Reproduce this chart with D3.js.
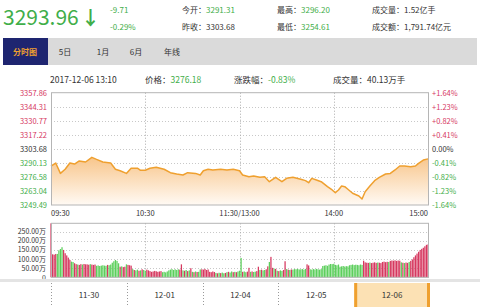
<!DOCTYPE html>
<html>
<head>
<meta charset="utf-8">
<script src="https://cdnjs.cloudflare.com/ajax/libs/d3/7.8.5/d3.min.js"></script>
<style>
body { margin: 0; background: #fff; }
svg text { font-family: "Noto Sans CJK SC", "Noto Sans", sans-serif; }
</style>
</head>
<body>
<script>
var W = 480, H = 307;

// quote header
var lastPrice = "3293.96",
    change = "-9.71",
    changePct = "-0.29%";
var quoteRows = [
  [{"k": "今开：", "v": "3291.31", "c": "g"}, {"k": "最高：", "v": "3296.20", "c": "g"}, {"k": "成交量：", "v": "1.52亿手", "c": "d"}],
  [{"k": "昨收：", "v": "3303.68", "c": "d"}, {"k": "最低：", "v": "3254.61", "c": "g"}, {"k": "成交额：", "v": "1,791.74亿元", "c": "d"}]
];
var tabs = ["分时图", "5日", "1月", "6月", "年线"];

// hover info line
var infoTime = "2017-12-06 13:10",
    infoPrice = "3276.18",
    infoPct = "-0.83%",
    infoVol = "40.13万手";

// price axis
var priceTicks = [3357.86, 3344.31, 3330.77, 3317.22, 3303.68, 3290.13, 3276.58, 3263.04, 3249.49];
var pctTicks = ["+1.64%", "+1.23%", "+0.82%", "+0.41%", "0.00%", "-0.41%", "-0.82%", "-1.23%", "-1.64%"];
var prevClose = 3303.68;
var timeTicks = ["09:30", "10:30", "11:30/13:00", "14:00", "15:00"];

// intraday price
var priceTimes = ["09:30","09:33","09:36","09:39","09:42","09:45","09:48","09:52","09:56","09:59",
  "10:03","10:08","10:11","10:14","10:18","10:21","10:25","10:27","10:30","10:33",
  "10:37","10:42","10:46","10:50","10:54","10:57","11:02","11:05","11:07","11:10",
  "11:13","11:18","11:22","11:26","11:30","13:02","13:06","13:09","13:13","13:16",
  "13:19","13:23","13:27","13:30","13:34","13:39","13:42","13:44","13:46","13:49",
  "13:52","13:56","13:59","14:01","14:03","14:05","14:07","14:09","14:12","14:16",
  "14:18","14:20","14:23","14:26","14:29","14:33","14:36","14:39","14:42","14:45",
  "14:49","14:52","14:54","14:57","15:00"];
var priceValues = [3287.1,3290.0,3280.0,3284.0,3290.0,3289.0,3292.0,3291.0,3295.5,3293.5,
  3291.0,3290.0,3284.0,3282.6,3280.0,3285.0,3285.0,3283.0,3283.0,3285.0,
  3286.0,3284.0,3280.7,3279.4,3278.4,3280.7,3280.0,3278.4,3282.6,3284.0,
  3283.3,3284.0,3283.3,3284.0,3282.6,3278.4,3276.8,3277.5,3276.2,3276.8,
  3272.0,3276.2,3272.0,3275.2,3276.2,3274.3,3273.0,3271.0,3275.2,3273.6,
  3272.0,3267.2,3264.0,3261.4,3264.0,3267.8,3267.2,3264.7,3260.8,3258.2,
  3255.3,3262.3,3267.8,3273.0,3276.2,3279.4,3280.0,3283.3,3287.1,3287.1,
  3286.5,3287.1,3289.7,3292.9,3294.0];

// per-minute volume in 万手, 09:30 .. 15:00
var volValues = [296,126,124,128,128,148,155,165,150,132,
  120,108,95,86,84,77,72,70,68,72,
  70,73,71,71,69,72,70,68,70,63,
  65,62,64,66,64,63,68,66,70,80,
  88,95,90,77,58,60,56,58,71,68,
  66,64,45,40,38,42,36,38,44,40,
  36,42,38,34,30,32,35,33,30,32,
  34,28,30,27,32,38,42,45,40,44,
  40,44,42,71,38,36,40,34,38,50,
  30,28,32,29,30,43,44,42,46,40,
  43,30,28,32,29,24,22,25,23,26,
  22,24,28,30,26,32,28,30,28,32,
  36,106,30,32,28,31,52,30,32,29,
  31,34,58,40,42,38,40,44,60,84,
  112,52,48,46,36,34,38,35,40,88,
  45,42,40,43,42,45,44,46,43,44,
  45,42,46,71,65,44,42,45,43,46,
  44,42,45,62,64,66,63,70,73,72,
  74,68,66,70,58,60,62,59,61,60,
  66,68,70,67,69,68,66,70,68,91,
  82,80,79,81,78,80,82,79,81,80,
  78,84,86,83,85,84,90,92,91,93,
  90,92,91,82,80,78,81,79,84,90,
  98,110,120,130,140,150,156,162,170,178,
  180];
// r = up minute, g = down minute
var volDirs = "rrrrggggrr" + "rrrggrrgrr" + "grrrrgrrrg" + "ggggggrggg" + "ggggrgrrgr" +
  "rrgrggrgrg" + "grrrrrrrrr" + "rggggggggg" + "ggrrgrgrgr" + "grgrggrrrr" +
  "rrrrrgrgrg" + "grgrggrgrg" + "ggrggrrgrg" + "grrgrggrrg" + "rrgrgrggrr" +
  "grgrgggggg" + "gggrrggggg" + "gggggggggg" + "gggggggggg" + "gggggggggr" +
  "rrrgrrrrgr" + "rrrrrgrrrr" + "rrrgrgrrgr" + "rrrrrrrrrr" + "r";
var volTicks = [0, 50, 100, 150, 200, 250];

var days = ["11-30", "12-01", "12-04", "12-05", "12-06"];
var activeDay = "12-06";

var RED = "#d6385f", GREEN = "#3fae49", DARK = "#333", ORANGE = "#efa02f";

var svg = d3.select("body").append("svg")
  .attr("width", W).attr("height", H);

// ---------- header ----------
svg.append("text").attr("x", 3).attr("y", 25)
  .attr("font-size", 21).attr("fill", GREEN).text(lastPrice);
svg.append("text").attr("x", 81).attr("y", 25)
  .attr("font-size", 19).attr("font-weight", "bold").attr("fill", GREEN).text("↓");
svg.append("text").attr("x", 110).attr("y", 13).attr("font-size", 8)
  .attr("fill", GREEN).text(change);
svg.append("text").attr("x", 110).attr("y", 30).attr("font-size", 8)
  .attr("fill", GREEN).text(changePct);

var colX = [182, 277, 372];
quoteRows.forEach(function(row, r) {
  row.forEach(function(d, c) {
    var t = svg.append("text").attr("x", colX[c]).attr("y", 13 + r * 17)
      .attr("font-size", 8).attr("fill", DARK);
    t.append("tspan").text(d.k);
    t.append("tspan").attr("fill", d.c == "g" ? GREEN : DARK).text(d.v);
  });
});

// tabs
svg.append("rect").attr("x", 3).attr("y", 38).attr("width", 474).attr("height", 27)
  .attr("fill", "#dadada");
svg.append("rect").attr("x", 3).attr("y", 38).attr("width", 45).attr("height", 27)
  .attr("fill", "#1e2570");
var tabX = [25, 65, 103, 136, 172];
svg.selectAll(".tab").data(tabs).enter().append("text")
  .attr("x", function(d, i) { return tabX[i]; })
  .attr("y", 55).attr("text-anchor", "middle").attr("font-size", 8)
  .attr("font-weight", function(d, i) { return i == 0 ? "bold" : "normal"; })
  .attr("fill", function(d, i) { return i == 0 ? ORANGE : DARK; })
  .text(function(d) { return d; });

// info line
function kv(x, k, v, col) {
  var t = svg.append("text").attr("x", x).attr("y", 83).attr("font-size", 8.5).attr("fill", DARK);
  t.append("tspan").text(k);
  t.append("tspan").attr("fill", col).text(v);
}
kv(50, "", infoTime, DARK);
kv(145, "价格：", infoPrice, GREEN);
kv(234, "涨跌幅：", infoPct, GREEN);
kv(333, "成交量：", infoVol, DARK);

// ---------- price chart ----------
var left = 51, right = 428, pTop = 92.7, pBottom = 205;

function timeIndex(s) {
  var p = s.split(":"), m = +p[0] * 60 + +p[1];
  return m <= 690 ? m - 570 : m - 780 + 120;
}

var x = d3.scaleLinear().domain([0, 240]).range([left, right]);
var y = d3.scaleLinear().domain([priceTicks[8], priceTicks[0]]).range([pBottom, pTop]);

var defs = svg.append("defs");
var grad = defs.append("linearGradient").attr("id", "pfill")
  .attr("gradientUnits", "userSpaceOnUse")
  .attr("x1", 0).attr("x2", 0).attr("y1", y(3296)).attr("y2", pBottom);
grad.append("stop").attr("offset", 0).attr("stop-color", "#f8c58a");
grad.append("stop").attr("offset", 1).attr("stop-color", "#fffaf4");

// grid
svg.append("g").selectAll("line").data(priceTicks.slice(1, 8)).enter().append("line")
  .attr("x1", left).attr("x2", right)
  .attr("y1", function(d) { return Math.round(y(d)) + 0.5; })
  .attr("y2", function(d) { return Math.round(y(d)) + 0.5; })
  .attr("stroke", "#c8c8c8").attr("stroke-dasharray", "1,2");

var vLines = [60, 120, 180];
svg.append("g").selectAll("line").data(vLines).enter().append("line")
  .attr("x1", function(d) { return Math.round(x(d)) + 0.5; })
  .attr("x2", function(d) { return Math.round(x(d)) + 0.5; })
  .attr("y1", pTop).attr("y2", pBottom)
  .attr("stroke", "#aaa").attr("stroke-dasharray", "1,2");

var pts = priceTimes.map(function(t, i) { return [timeIndex(t), priceValues[i]]; });

var area = d3.area()
  .x(function(d) { return x(d[0]); })
  .y0(pBottom)
  .y1(function(d) { return y(d[1]); });
var line = d3.line()
  .x(function(d) { return x(d[0]); })
  .y(function(d) { return y(d[1]); });

svg.append("path").attr("d", area(pts)).attr("fill", "url(#pfill)");
svg.append("path").attr("d", line(pts)).attr("fill", "none")
  .attr("stroke", ORANGE).attr("stroke-width", 1.5).attr("stroke-linejoin", "round");

svg.append("rect").attr("x", left + 0.5).attr("y", pTop).attr("width", right - left)
  .attr("height", pBottom - pTop).attr("fill", "none").attr("stroke", "#b5b5b5");

function tickColor(v) {
  return v > prevClose + 0.001 ? RED : (v < prevClose - 0.001 ? GREEN : DARK);
}

svg.append("g").selectAll("text").data(priceTicks).enter().append("text")
  .attr("x", 47).attr("y", function(d) { return y(d) + 3; })
  .attr("text-anchor", "end").attr("font-size", 7.5)
  .attr("fill", tickColor)
  .text(function(d) { return d.toFixed(2); });

svg.append("g").selectAll("text").data(priceTicks).enter().append("text")
  .attr("x", 432).attr("y", function(d) { return y(d) + 3; })
  .attr("font-size", 7.5)
  .attr("fill", tickColor)
  .text(function(d, i) { return pctTicks[i]; });

var tickPos = [0, 60, 120, 180, 240];
svg.append("g").selectAll("text").data(timeTicks).enter().append("text")
  .attr("x", function(d, i) { return x(tickPos[i]); })
  .attr("y", 216)
  .attr("text-anchor", function(d, i) { return i == 0 ? "start" : (i == 4 ? "end" : "middle"); })
  .attr("font-size", 7.5).attr("fill", DARK)
  .text(function(d) { return d; });

// ---------- volume chart ----------
var vTop = 223.3, vBottom = 277.3;
var yv = d3.scaleLinear().domain([0, 296]).range([vBottom, vTop]);

svg.append("g").selectAll("line").data(volTicks.slice(1)).enter().append("line")
  .attr("x1", left).attr("x2", right)
  .attr("y1", function(d) { return Math.round(yv(d)) + 0.5; })
  .attr("y2", function(d) { return Math.round(yv(d)) + 0.5; })
  .attr("stroke", "#c8c8c8").attr("stroke-dasharray", "1,2");
svg.append("g").selectAll("line").data(vLines).enter().append("line")
  .attr("x1", function(d) { return Math.round(x(d)) + 0.5; })
  .attr("x2", function(d) { return Math.round(x(d)) + 0.5; })
  .attr("y1", vTop).attr("y2", vBottom)
  .attr("stroke", "#aaa").attr("stroke-dasharray", "1,2");

svg.append("g").selectAll("rect").data(volValues).enter().append("rect")
  .attr("x", function(d, i) { return x(i) - 0.6; })
  .attr("width", 1.25)
  .attr("y", function(d) { return yv(d); })
  .attr("height", function(d) { return vBottom - yv(d); })
  .attr("fill", function(d, i) { return volDirs[i] == "r" ? RED : "#5ccf5c"; });

svg.append("rect").attr("x", left + 0.5).attr("y", vTop).attr("width", right - left)
  .attr("height", vBottom - vTop).attr("fill", "none").attr("stroke", "#b5b5b5");

svg.append("g").selectAll("text").data(volTicks).enter().append("text")
  .attr("x", 46).attr("y", function(d) { return yv(d) + 2.5; })
  .attr("text-anchor", "end").attr("font-size", 7).attr("fill", DARK)
  .text(function(d) { return d == 0 ? "0" : d.toFixed(2) + "万"; });

// ---------- day navigator ----------
var nTop = 283;
var dayX = d3.scaleBand().domain(days).range([left, 430]);
svg.append("line").attr("x1", 0).attr("x2", W).attr("y1", 280.5).attr("y2", 280.5)
  .attr("stroke", "#e4e4e4").attr("stroke-width", 3);

var act = svg.append("g");
act.append("rect").attr("x", dayX(activeDay)).attr("y", nTop)
  .attr("width", dayX.bandwidth()).attr("height", H - nTop).attr("fill", "#fce1b4");
act.append("rect").attr("x", dayX(activeDay)).attr("y", nTop)
  .attr("width", 3).attr("height", H - nTop).attr("fill", ORANGE);
act.append("rect").attr("x", dayX(activeDay) + dayX.bandwidth() - 3).attr("y", nTop)
  .attr("width", 3).attr("height", H - nTop).attr("fill", ORANGE);

svg.append("g").selectAll("line").data(days.filter(function(d) { return d != activeDay; }))
  .enter().append("line")
  .attr("x1", function(d) { return Math.round(dayX(d)) + 0.5; })
  .attr("x2", function(d) { return Math.round(dayX(d)) + 0.5; })
  .attr("y1", nTop).attr("y2", H)
  .attr("stroke", "#999").attr("stroke-dasharray", "1,2");

svg.append("g").selectAll("text").data(days).enter().append("text")
  .attr("x", function(d) { return dayX(d) + dayX.bandwidth() / 2; })
  .attr("y", 298).attr("text-anchor", "middle").attr("font-size", 8).attr("fill", DARK)
  .text(function(d) { return d; });
</script>
</body>
</html>
